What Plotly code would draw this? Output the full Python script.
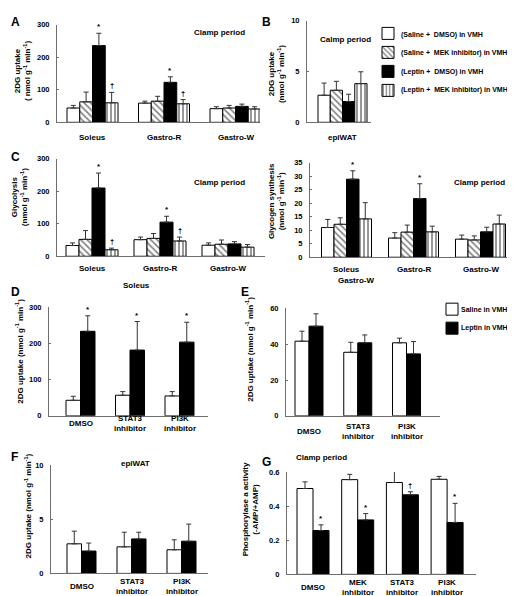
import plotly.graph_objects as go

W, H = 515, 596
FONT = "Liberation Sans"

# ---------------- data ----------------
# Panel A: 2DG uptake (nmol g-1 min-1), clamp period
A_cats = ["Soleus", "Gastro-R", "Gastro-W"]
A_sal_dmso = [44, 59, 42]
A_sal_dmso_err = [8, 6, 6]
A_sal_mek = [63, 65, 44]
A_sal_mek_err = [30, 15, 8]
A_lep_dmso = [236, 123, 49]
A_lep_dmso_err = [38, 17, 7]
A_lep_mek = [60, 57, 41]
A_lep_mek_err = [32, 13, 7]
A_lep_dmso_marks = ["*", "*", ""]
A_lep_mek_marks = ["\u2020", "\u2020", ""]

# Panel B: epiWAT 2DG uptake
B_cats = ["epiWAT"]
B_sal_dmso = [2.67]
B_sal_dmso_err = [1.2]
B_sal_mek = [3.16]
B_sal_mek_err = [0.88]
B_lep_dmso = [2.05]
B_lep_dmso_err = [0.72]
B_lep_mek = [3.81]
B_lep_mek_err = [1.17]

# Panel C (left): glycolysis
C_cats = ["Soleus", "Gastro-R", "Gastro-W"]
C_sal_dmso = [33, 51, 34]
C_sal_dmso_err = [8, 8, 7]
C_sal_mek = [52, 55, 37]
C_sal_mek_err = [27, 15, 13]
C_lep_dmso = [210, 105, 38]
C_lep_dmso_err = [46, 18, 7]
C_lep_mek = [20, 47, 28]
C_lep_mek_err = [5, 12, 8]
C_lep_dmso_marks = ["*", "*", ""]
C_lep_mek_marks = ["\u2020", "\u2020", ""]

# Panel C (right): glycogen synthesis
G2_cats = ["Soleus", "Gastro-R", "Gastro-W"]
G2_sal_dmso = [11.0, 7.1, 6.7]
G2_sal_dmso_err = [3.0, 2.0, 1.5]
G2_sal_mek = [12.2, 9.3, 6.4]
G2_sal_mek_err = [2.4, 2.6, 1.5]
G2_lep_dmso = [28.9, 21.7, 9.4]
G2_lep_dmso_err = [3.1, 5.5, 1.7]
G2_lep_mek = [14.2, 9.4, 12.3]
G2_lep_mek_err = [6.0, 2.1, 3.3]
G2_lep_dmso_marks = ["*", "*", ""]

# Panel D: Soleus
D_cats = ["DMSO", "STAT3<br>inhibitor", "PI3K<br>inhibitor"]
D_saline = [43, 57, 55]
D_saline_err = [11, 10, 12]
D_leptin = [234, 182, 204]
D_leptin_err = [43, 79, 55]
D_leptin_marks = ["*", "*", "*"]

# Panel E: Gastro-W
E_cats = ["DMSO", "STAT3<br>inhibitor", "PI3K<br>inhibitor"]
E_saline = [41.7, 35.5, 40.8]
E_saline_err = [5.6, 5.6, 2.6]
E_leptin = [50.1, 40.8, 34.6]
E_leptin_err = [6.9, 4.4, 6.9]

# Panel F: epiWAT
F_cats = ["DMSO", "STAT3<br>inhibitor", "PI3K<br>inhibitor"]
F_saline = [2.73, 2.45, 2.18]
F_saline_err = [1.17, 1.35, 0.92]
F_leptin = [2.06, 3.18, 2.97]
F_leptin_err = [0.74, 0.62, 1.58]

# Panel G: phosphorylase a activity
G_cats = ["DMSO", "MEK<br>inhibitor", "STAT3<br>inhibitor", "PI3K<br>inhibitor"]
G_saline = [0.503, 0.555, 0.538, 0.557]
G_saline_err = [0.039, 0.031, 0.072, 0.017]
G_leptin = [0.257, 0.319, 0.466, 0.304]
G_leptin_err = [0.033, 0.037, 0.018, 0.112]
G_leptin_marks = ["*", "*", "\u2020", "*"]

SERIES4 = ["(Saline +  DMSO) in VMH", "(Saline +  MEK inhibitor) in VMH",
           "(Leptin +  DMSO) in VMH", "(Leptin +  MEK inhibitor) in VMH"]
SERIES2 = ["Saline in VMH", "Leptin in VMH"]

# ---------------- styles ----------------
STY = {
    "white": dict(color="white"),
    "diag": dict(color="white", pattern=dict(shape="\\", fgcolor="black", bgcolor="white",
                                              size=4.5, solidity=0.35)),
    "black": dict(color="black"),
    "vert": dict(color="white", pattern=dict(shape="|", fgcolor="black", bgcolor="white",
                                              size=4, solidity=0.4)),
}
AXC = "#6e6e6e"
BOLD = dict(family=FONT, weight="bold", color="black")

fig = go.Figure()
annots = []
layout = {}


def add_panel(k, cats, series, geom, yticks, label_shift):
    x0, x1, ytop, ybot, ymax, c0, sp, gw = geom
    xa = "x" if k == 1 else f"x{k}"
    ya = "y" if k == 1 else f"y{k}"
    n = len(series)
    w = gw / n / sp
    start = -gw / (2 * sp)
    for i, s in enumerate(series):
        name, vals, errs, sty, marks, leg = s
        off = start + i * w
        fig.add_trace(go.Bar(
            x=cats, y=vals, xaxis=xa, yaxis=ya,
            # legend swatches only; their labels are drawn as annotations beside them
            name="" if leg else name,
            width=w, offset=off,
            marker=dict(**STY[sty], line=dict(color="black", width=1)),
            error_y=dict(type="data", array=errs, arrayminus=[0] * len(errs), symmetric=False,
                         color="#333333", thickness=1, width=2.5),
            showlegend=leg is not None, legend=leg if leg else "legend",
        ))
        if marks:
            for j, m in enumerate(marks):
                if m:
                    f = dict(**BOLD, size=8 if m == "*" else 7.5)
                    annots.append(dict(
                        x=j + off + w / 2, y=vals[j] + errs[j], xref=xa, yref=ya,
                        text=m, showarrow=False, yanchor="bottom", font=f, yshift=0))
    key_x = "xaxis" if k == 1 else f"xaxis{k}"
    key_y = "yaxis" if k == 1 else f"yaxis{k}"
    layout[key_x] = dict(
        domain=[x0 / W, x1 / W], anchor=ya, type="category",
        range=[-(c0 - x0) / sp, (x1 - c0) / sp],
        showline=True, linecolor=AXC, linewidth=1, ticks="", showgrid=False, zeroline=False,
        showticklabels=False,
    )
    layout[key_y] = dict(
        domain=[1 - ybot / H, 1 - ytop / H], anchor=xa, range=[0, ymax],
        tickvals=yticks, showline=True, linecolor=AXC, linewidth=1,
        ticks="inside", ticklen=2, tickcolor=AXC, showgrid=False, zeroline=False,
        tickfont=dict(**BOLD, size=7.5), ticklabelstandoff=5,
    )
    # category labels under the axis
    for j, c in enumerate(cats):
        annots.append(dict(x=j, y=0, xref=xa, yref=f"{ya} domain", text=c, showarrow=False,
                           yanchor="middle", yshift=-label_shift,
                           font=dict(**BOLD, size=8)))


def four(vals_errs, marks_list, legend=None):
    out = []
    stys = ["white", "diag", "black", "vert"]
    for i, (v, e) in enumerate(vals_errs):
        out.append((SERIES4[i], v, e, stys[i], marks_list[i], legend))
    return out


# geometry: x0, x1, ytop(px at ymax), ybot(px at 0), ymax, first center px, spacing px, group px
add_panel(1, A_cats, four([(A_sal_dmso, A_sal_dmso_err), (A_sal_mek, A_sal_mek_err),
                           (A_lep_dmso, A_lep_dmso_err), (A_lep_mek, A_lep_mek_err)],
                          [None, None, A_lep_dmso_marks, A_lep_mek_marks]),
          (49, 252, 13, 112, 300, 84.5, 71.5, 51), [0, 100, 200, 300], 15)
add_panel(2, B_cats, four([(B_sal_dmso, B_sal_dmso_err), (B_sal_mek, B_sal_mek_err),
                           (B_lep_dmso, B_lep_dmso_err), (B_lep_mek, B_lep_mek_err)],
                          [None, None, None, None], legend="legend"),
          (299, 363, 9, 112, 10, 334.5, 71, 49), [0, 5, 10], 15)
add_panel(3, C_cats, four([(C_sal_dmso, C_sal_dmso_err), (C_sal_mek, C_sal_mek_err),
                           (C_lep_dmso, C_lep_dmso_err), (C_lep_mek, C_lep_mek_err)],
                          [None, None, C_lep_dmso_marks, C_lep_mek_marks]),
          (49, 257, 149, 248, 300, 84, 68, 52), [0, 100, 200, 300], 12)
add_panel(4, G2_cats, four([(G2_sal_dmso, G2_sal_dmso_err), (G2_sal_mek, G2_sal_mek_err),
                            (G2_lep_dmso, G2_lep_dmso_err), (G2_lep_mek, G2_lep_mek_err)],
                           [None, None, G2_lep_dmso_marks, None]),
          (302, 510, 153, 249, 35, 338.5, 67, 50), [0, 5, 10, 15, 20, 25, 30, 35], 12)
add_panel(5, D_cats, [(SERIES2[0], D_saline, D_saline_err, "white", None, None),
                      (SERIES2[1], D_leptin, D_leptin_err, "black", D_leptin_marks, None)],
          (41, 200, 300, 410, 300, 72.5, 49.5, 29), [0, 100, 200, 300], 8)
add_panel(6, E_cats, [(SERIES2[0], E_saline, E_saline_err, "white", None, "legend2"),
                      (SERIES2[1], E_leptin, E_leptin_err, "black", None, "legend2")],
          (278, 432, 301, 410, 60, 301, 48.75, 28), [0, 20, 40, 60], 16)
add_panel(7, F_cats, [(SERIES2[0], F_saline, F_saline_err, "white", None, None),
                      (SERIES2[1], F_leptin, F_leptin_err, "black", None, None)],
          (43, 200, 460, 570, 10, 73.5, 50, 29), [0, 5, 10], 13)
add_panel(8, G_cats, [(SERIES2[0], G_saline, G_saline_err, "white", None, None),
                      (SERIES2[1], G_leptin, G_leptin_err, "black", G_leptin_marks, None)],
          (279, 468, 467, 571, 0.6, 305, 44.7, 32), [0, 0.2, 0.4, 0.6], 13)


def ptxt(x, y, text, size=8, angle=0, xanchor="center", yanchor="middle"):
    annots.append(dict(x=x / W, y=1 - y / H, xref="paper", yref="paper", text=text,
                       showarrow=False, textangle=angle, xanchor=xanchor, yanchor=yanchor,
                       font=dict(**BOLD, size=size)))


UNIT = "nmol g<sup>-1</sup> min<sup>-1</sup>"
# panel letters
ptxt(1, 10, "A", 12, xanchor="left")
ptxt(252, 10, "B", 12, xanchor="left")
ptxt(1, 147, "C", 12, xanchor="left")
ptxt(1, 284, "D", 12, xanchor="left")
ptxt(231, 284, "E", 12, xanchor="left")
ptxt(1, 452, "F", 12, xanchor="left")
ptxt(252, 457, "G", 12, xanchor="left")
# y-axis titles
ptxt(14, 60, "2DG uptake<br>( " + UNIT + ")", 8, -90)
ptxt(268, 63, "2DG uptake<br>(" + UNIT + ")", 8, -90)
ptxt(11, 188, "Glycolysis<br>(" + UNIT + ")", 8, -90)
ptxt(268, 192, "Glycogen synthesis<br>(" + UNIT + ")", 8, -90)
ptxt(11, 345, "2DG uptake (" + UNIT + ")", 8, -90)
ptxt(241, 343, "2DG uptake (" + UNIT + ")", 8, -90)
ptxt(20, 502, "2DG uptake (" + UNIT + ")", 8, -90)
ptxt(242, 505, "Phosphorylase a activity<br>(-AMP/+AMP)", 8, -90)
# period labels / panel titles
ptxt(211, 21, "Clamp period")
ptxt(337, 28, "Calmp period")
ptxt(211, 173, "Clamp period")
ptxt(471, 173, "Clamp period")
ptxt(313, 452, "Clamp period")
ptxt(128, 278, "Soleus")
ptxt(348, 273, "Gastro-W")
ptxt(127, 458, "epiWAT")
# legend labels (placed beside the legend swatches)
for name, yy in zip(SERIES4, [23.5, 42, 60.5, 79]):
    ptxt(391, yy, name, 7, xanchor="left")
for name, yy in zip(SERIES2, [302.5, 320.5]):
    ptxt(451, yy, name, 7, xanchor="left")

fig.update_layout(
    width=W, height=H, margin=dict(l=0, r=0, t=0, b=0),
    paper_bgcolor="white", plot_bgcolor="rgba(0,0,0,0)",
    barmode="group", annotations=annots,
    font=dict(family=FONT, color="black"),
    legend=dict(x=360 / W, y=1 - 7 / H, xanchor="left", yanchor="top",
                font=dict(family=FONT, size=8),
                bgcolor="rgba(0,0,0,0)", traceorder="normal", itemwidth=30),
    legend2=dict(x=424 / W, y=1 - 287 / H, xanchor="left", yanchor="top",
                 font=dict(family=FONT, size=8),
                 bgcolor="rgba(0,0,0,0)", traceorder="normal", itemwidth=30),
    **layout,
)

fig.write_html("out.html")
